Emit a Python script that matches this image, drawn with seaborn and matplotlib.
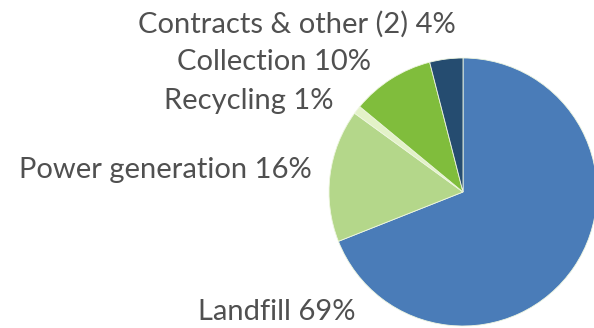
import matplotlib
matplotlib.use("Agg")
import matplotlib.pyplot as plt
import seaborn as sns

segments = ["Landfill", "Power generation", "Recycling", "Collection", "Contracts & other (2)"]
shares = [69, 16, 1, 10, 4]
colors = ["#4a7cb8", "#b4d78a", "#e3f2c8", "#80bd3c", "#254c70"]

sns.set_theme(style="white")
plt.rcParams["font.family"] = ["Lato", "DejaVu Sans"]

W, H = 594, 328
fig = plt.figure(figsize=(W / 100, H / 100), dpi=100)

# pie centre and radius in pixels
cx, cy, r = 463, 192, 134
ax = fig.add_axes([(cx - r) / W, (H - cy - r) / H, 2 * r / W, 2 * r / H])
ax.pie(shares, colors=colors, startangle=90, counterclock=False,
       wedgeprops=dict(linewidth=0.6, edgecolor="#eef6e0"))
ax.set_xlim(-1, 1)
ax.set_ylim(-1, 1)
ax.set_aspect("equal")
ax.axis("off")

# label placement: (right edge x, centre y) in pixels
label_pos = {
    "Contracts & other (2)": (456, 24),
    "Collection": (371, 62),
    "Recycling": (334, 101),
    "Power generation": (312, 170),
    "Landfill": (355, 312),
}
for name, val in zip(segments, shares):
    x, y = label_pos[name]
    fig.text(x / W, 1 - y / H, f"{name} {val}%", ha="right", va="center",
             fontsize=21, color="#505050")

fig.savefig("out.png", dpi=100)
